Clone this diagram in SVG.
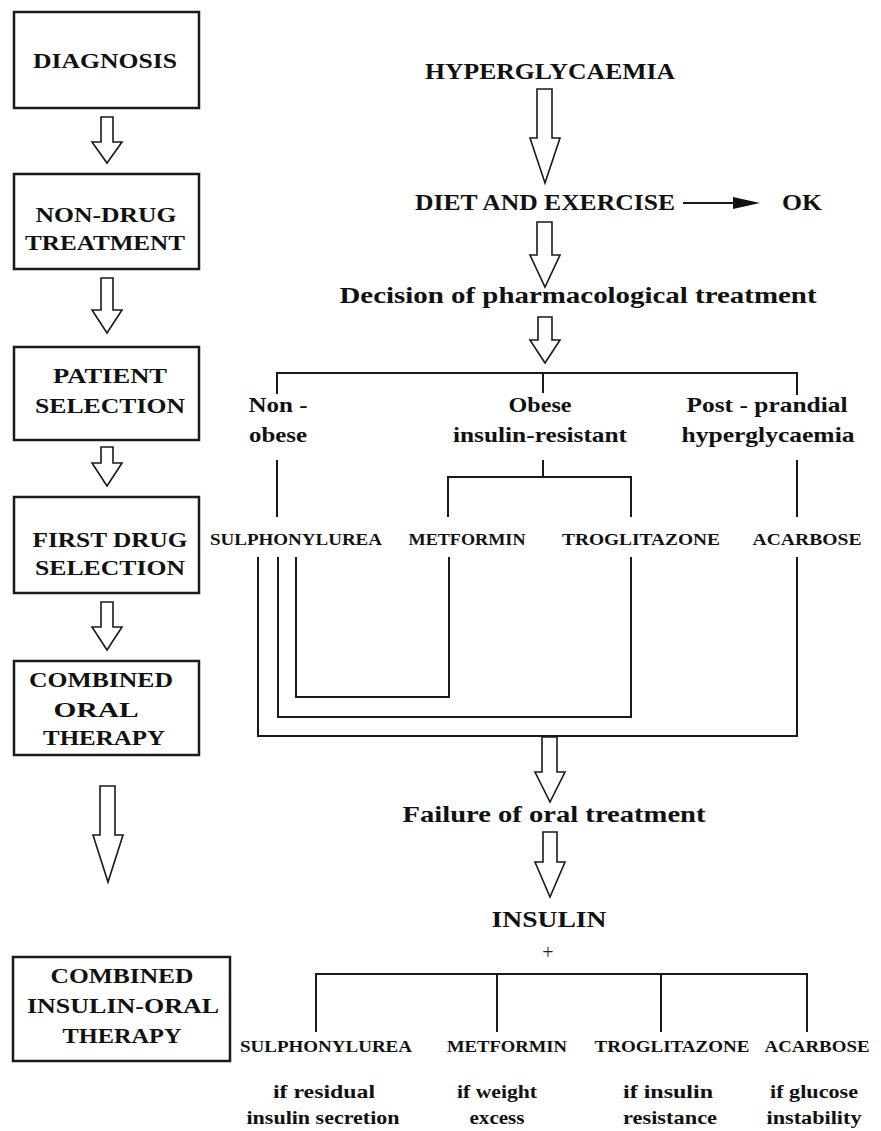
<svg xmlns="http://www.w3.org/2000/svg" width="881" height="1131" viewBox="0 0 881 1131">
<style>
.box{fill:#fff;stroke:#1a1a1a;stroke-width:2.5}
.t{font-family:"Liberation Serif","Times New Roman",serif;font-weight:bold;fill:#111;text-anchor:middle}
.b{font-size:22px}
.h{font-size:24px}
.m{font-size:22px}
.d{font-size:17px}
.s{font-size:19px}
.ln{fill:none;stroke:#1a1a1a;stroke-width:2}
.ba{fill:#fff;stroke:#1a1a1a;stroke-width:1.6;stroke-linejoin:miter}
</style>
<rect width="881" height="1131" fill="#fff"/>

<g id="left-column">
<g id="diagnosis"><rect class="box" x="14" y="12" width="185" height="96"/>
<text class="t b" x="105" y="68" textLength="144" lengthAdjust="spacingAndGlyphs">DIAGNOSIS</text></g>
<g id="non-drug"><rect class="box" x="14" y="174" width="185" height="95"/>
<text class="t b" x="106" y="222" textLength="141" lengthAdjust="spacingAndGlyphs">NON-DRUG</text>
<text class="t b" x="105" y="250" textLength="160" lengthAdjust="spacingAndGlyphs">TREATMENT</text></g>
<g id="patient"><rect class="box" x="14" y="347" width="185" height="93"/>
<text class="t b" x="110" y="383" textLength="114" lengthAdjust="spacingAndGlyphs">PATIENT</text>
<text class="t b" x="110" y="413" textLength="150" lengthAdjust="spacingAndGlyphs">SELECTION</text></g>
<g id="first-drug"><rect class="box" x="14" y="497" width="185" height="96"/>
<text class="t b" x="110" y="547" textLength="155" lengthAdjust="spacingAndGlyphs">FIRST DRUG</text>
<text class="t b" x="110" y="575" textLength="150" lengthAdjust="spacingAndGlyphs">SELECTION</text></g>
<g id="combined-oral"><rect class="box" x="14" y="661" width="185" height="94"/>
<text class="t b" x="101" y="687" textLength="144" lengthAdjust="spacingAndGlyphs">COMBINED</text>
<text class="t b" x="96" y="717" textLength="85" lengthAdjust="spacingAndGlyphs">ORAL</text>
<text class="t b" x="104" y="745" textLength="122" lengthAdjust="spacingAndGlyphs">THERAPY</text></g>
<g id="combined-insulin-oral"><rect class="box" x="13" y="957" width="217" height="104"/>
<text class="t b" x="122" y="983" textLength="143" lengthAdjust="spacingAndGlyphs">COMBINED</text>
<text class="t b" x="123" y="1013" textLength="192" lengthAdjust="spacingAndGlyphs">INSULIN-ORAL</text>
<text class="t b" x="122" y="1043" textLength="119" lengthAdjust="spacingAndGlyphs">THERAPY</text></g>
</g>

<g id="right-nodes">
<g id="hyperglycaemia"><text class="t h" x="550" y="79" textLength="250" lengthAdjust="spacingAndGlyphs">HYPERGLYCAEMIA</text></g>
<g id="diet"><text class="t h" x="545" y="210" textLength="260" lengthAdjust="spacingAndGlyphs">DIET AND EXERCISE</text></g>
<g id="ok"><text class="t h" x="802" y="210" textLength="40" lengthAdjust="spacingAndGlyphs">OK</text></g>
<g id="decision"><text class="t h" x="578" y="303" textLength="477" lengthAdjust="spacingAndGlyphs">Decision of pharmacological treatment</text></g>
<g id="non-obese"><text class="t m" x="278" y="412" textLength="59" lengthAdjust="spacingAndGlyphs">Non -</text>
<text class="t m" x="278" y="442" textLength="58" lengthAdjust="spacingAndGlyphs">obese</text></g>
<g id="obese"><text class="t m" x="540" y="412" textLength="63" lengthAdjust="spacingAndGlyphs">Obese</text>
<text class="t m" x="540" y="442" textLength="174" lengthAdjust="spacingAndGlyphs">insulin-resistant</text></g>
<g id="post-prandial"><text class="t m" x="767" y="412" textLength="161" lengthAdjust="spacingAndGlyphs">Post - prandial</text>
<text class="t m" x="768" y="442" textLength="173" lengthAdjust="spacingAndGlyphs">hyperglycaemia</text></g>
<g id="sulph1"><text class="t d" x="296" y="545" textLength="172" lengthAdjust="spacingAndGlyphs">SULPHONYLUREA</text></g>
<g id="metformin1"><text class="t d" x="467" y="545" textLength="117" lengthAdjust="spacingAndGlyphs">METFORMIN</text></g>
<g id="trog1"><text class="t d" x="641" y="545" textLength="158" lengthAdjust="spacingAndGlyphs">TROGLITAZONE</text></g>
<g id="acarbose1"><text class="t d" x="807" y="545" textLength="109" lengthAdjust="spacingAndGlyphs">ACARBOSE</text></g>
<g id="failure"><text class="t h" x="554" y="822" textLength="303" lengthAdjust="spacingAndGlyphs">Failure of oral treatment</text></g>
<g id="insulin"><text class="t h" x="549" y="927" textLength="115" lengthAdjust="spacingAndGlyphs">INSULIN</text>
<text x="548" y="959" fill="#222" text-anchor="middle" font-family="Liberation Serif, serif" font-size="20">+</text></g>
<g id="sulph2"><text class="t d" x="326" y="1052" textLength="172" lengthAdjust="spacingAndGlyphs">SULPHONYLUREA</text>
<text class="t s" x="324" y="1098" textLength="102" lengthAdjust="spacingAndGlyphs">if  residual</text>
<text class="t s" x="323" y="1124" textLength="153" lengthAdjust="spacingAndGlyphs">insulin secretion</text></g>
<g id="metformin2"><text class="t d" x="507" y="1052" textLength="120" lengthAdjust="spacingAndGlyphs">METFORMIN</text>
<text class="t s" x="497" y="1098" textLength="80" lengthAdjust="spacingAndGlyphs">if weight</text>
<text class="t s" x="497" y="1124" textLength="55" lengthAdjust="spacingAndGlyphs">excess</text></g>
<g id="trog2"><text class="t d" x="672" y="1052" textLength="155" lengthAdjust="spacingAndGlyphs">TROGLITAZONE</text>
<text class="t s" x="668" y="1098" textLength="90" lengthAdjust="spacingAndGlyphs">if  insulin</text>
<text class="t s" x="670" y="1124" textLength="94" lengthAdjust="spacingAndGlyphs">resistance</text></g>
<g id="acarbose2"><text class="t d" x="817" y="1052" textLength="105" lengthAdjust="spacingAndGlyphs">ACARBOSE</text>
<text class="t s" x="814" y="1098" textLength="88" lengthAdjust="spacingAndGlyphs">if glucose</text>
<text class="t s" x="814" y="1124" textLength="95" lengthAdjust="spacingAndGlyphs">instability</text></g>
</g>

<g id="connectors">
<path class="ba" d="M101,117 H113 V142 H122 L107,163 L92,142 H101 Z"/>
<path class="ba" d="M101,278 H113 V310 H122 L107,333 L92,310 H101 Z"/>
<path class="ba" d="M101,447 H113 V463 H122 L107,486 L92,463 H101 Z"/>
<path class="ba" d="M101,602 H113 V627 H122 L107,650 L92,627 H101 Z"/>
<path class="ba" d="M100,786 H115 V835 H123 L108,882 L93,835 H100 Z"/>
<path class="ba" d="M537,89 H552 V138 H560 L545,183 L530,138 H537 Z"/>
<path class="ba" d="M537,222 H552 V255 H560 L545,287 L530,255 H537 Z"/>
<path class="ba" d="M538,317 H552 V340 H560 L545,363 L530,340 H538 Z"/>
<path class="ba" d="M542,737 H557 V772 H565 L550,802 L535,772 H542 Z"/>
<path class="ba" d="M543,832 H557 V862 H565 L550,897 L535,862 H543 Z"/>
<line class="ln" x1="683" y1="203" x2="736" y2="203"/>
<path d="M733,197 L760,203 L733,209 Z" fill="#111"/>
<path class="ln" d="M277,394 V373 H797 V395"/>
<line class="ln" x1="543" y1="373" x2="543" y2="393"/>
<line class="ln" x1="277" y1="460" x2="277" y2="517"/>
<line class="ln" x1="543" y1="460" x2="543" y2="477"/>
<path class="ln" d="M448,517 V477 H631 V517"/>
<line class="ln" x1="797" y1="460" x2="797" y2="517"/>
<path class="ln" d="M296,557 V697 H449 V557"/>
<path class="ln" d="M278,557 V717 H631 V557"/>
<path class="ln" d="M258,557 V736 H797 V557"/>
<path class="ln" d="M316,1032 V974 H807 V1032"/>
<line class="ln" x1="497" y1="974" x2="497" y2="1032"/>
<line class="ln" x1="661" y1="974" x2="661" y2="1032"/>
</g>
</svg>
